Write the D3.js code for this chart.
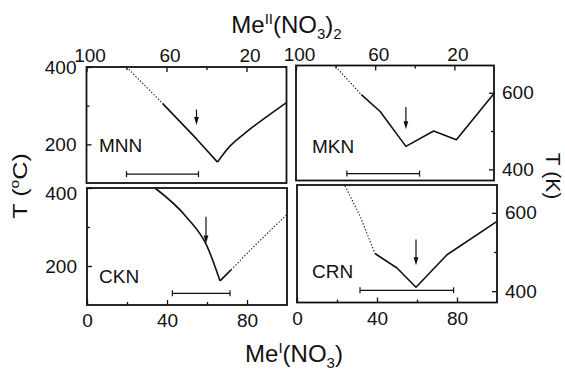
<!DOCTYPE html>
<html><head><meta charset="utf-8">
<script src="https://cdn.jsdelivr.net/npm/d3@7"></script>
<style>
html,body{margin:0;padding:0;background:#fff;}
svg{display:block;font-family:"Liberation Sans",Arial,sans-serif;}
</style></head><body>
<svg id="chart" width="565" height="371"></svg>
<script>
// Composition axes (mol %): Me^I(NO3) along the bottom, Me^II(NO3)2 along the top
const bottomTickLabels = [0, 40, 80];
const bottomMinorTicks = [20, 60];
const topTickLabels = [100, 60, 20];
const topMinorTicks = [80, 40];
// Temperature axes
const celsiusTicks = [200, 400];
const celsiusMinor = [300];
const kelvinTicks = [400, 600];
const kelvinMinor = [500];

const systems = ["MNN", "MKN", "CKN", "CRN"];

// Liquidus curves: [Me^I mol %, T]; °C for MNN/CKN, K for MKN/CRN
const mnnDotted = [[20,400],[38,306]];
const mnnLeft   = [[38,306],[55,214],[65.5,154]];
const mnnRight  = [[65.5,154],[68,172],[71.5,194],[80,232],[90,271],[100,308]];
const mknDotted = [[20,668],[33,595]];
const mknSolid  = [[33,595],[42.5,551],[55.5,460],[69.5,500],[81,477],[100,598]];
const cknLeft   = [[34,400],[50,324],[60,251],[66.5,162]];
const cknRight  = [[66.5,162],[72,190]];
const cknDotted = [[72,190],[80,232],[90,283],[100,332]];
const crnDotted = [[24,669],[31.5,592],[39,496]];
const crnSolid  = [[39,496],[50,459],[59.5,410],[75,493],[100,578]];

// Glass-forming ranges: [from %, to %, T]
const mnnRange = [20, 56, 123];
const mknRange = [25.7, 62.4, 389];
const cknRange = [42.7, 71.5, 130];
const crnRange = [31.5, 78.3, 402];

// Arrows: [x %, T at tail, T at tip]
const mnnArrow = [55, 290, 250];
const mknArrow = [55.5, 563, 505];
const cknArrow = [59.5, 326, 258];
const crnArrow = [59.5, 532, 466];

const ink = "#111";
const svg = d3.select("#chart");

// each curve piece: data, dotted?, smooth?
const panels = [
  {name: systems[0], box: [86.5, 67, 286.5, 183], unit: "C", row: 0, col: 0,
   pieces: [[mnnDotted, true, false], [mnnLeft, false, false], [mnnRight, false, true]],
   range: mnnRange, arrow: mnnArrow, lab: [12.5, 85]},
  {name: systems[1], box: [296, 65.5, 494, 180.5], unit: "K", row: 0, col: 1,
   pieces: [[mknDotted, true, false], [mknSolid, false, false]],
   range: mknRange, arrow: mknArrow, lab: [16, 87.5]},
  {name: systems[2], box: [87, 188, 287, 305], unit: "C", row: 1, col: 0,
   pieces: [[cknLeft, false, true], [cknRight, false, false], [cknDotted, true, true]],
   range: cknRange, arrow: cknArrow, lab: [12, 95]},
  {name: systems[3], box: [297, 185, 497, 302.5], unit: "K", row: 1, col: 1,
   pieces: [[crnDotted, true, false], [crnSolid, false, false]],
   range: crnRange, arrow: crnArrow, lab: [15, 93]}
];

function styleAxis(g) {
  g.select(".domain").remove();
  g.selectAll(".tick line").attr("stroke", ink).attr("stroke-width", 1.3);
  g.selectAll(".tick text").attr("fill", ink).style("font-size", "19px")
    .style("font-family", '"Liberation Sans", Arial, sans-serif');
}

panels.forEach(p => {
  const [x0, y0, x1, y1] = p.box;
  const x = d3.scaleLinear().domain([0, 100]).range([x0, x1]);
  const xTop = d3.scaleLinear().domain([100, 0]).range([x0, x1]);
  const y = d3.scaleLinear()
    .domain(p.unit === "C" ? [100, 400] : [371, 671])
    .range([y1, y0]);

  const g = svg.append("g");

  // vertical axis
  if (p.col === 0) {
    const ax = g.append("g").attr("transform", `translate(${x0},0)`)
      .call(d3.axisLeft(y).tickValues(celsiusTicks).tickSize(-5).tickPadding(10)).call(styleAxis);
    // keep the top label of the lower panel clear of the panel above
    if (p.row === 1) ax.selectAll(".tick text").filter(d => d === 400).attr("transform", "translate(0,5)");
    g.append("g").attr("transform", `translate(${x0},0)`)
      .call(d3.axisLeft(y).tickValues(celsiusMinor).tickSize(-3).tickFormat("")).call(styleAxis);
  } else {
    g.append("g").attr("transform", `translate(${x1},0)`)
      .call(d3.axisRight(y).tickValues(kelvinTicks).tickSize(-5).tickPadding(8)).call(styleAxis);
    g.append("g").attr("transform", `translate(${x1},0)`)
      .call(d3.axisRight(y).tickValues(kelvinMinor).tickSize(-3).tickFormat("")).call(styleAxis);
  }

  // horizontal axis
  if (p.row === 0) {
    g.append("g").attr("transform", `translate(0,${y0})`)
      .call(d3.axisTop(xTop).tickValues(topTickLabels).tickSize(-5).tickPadding(5)).call(styleAxis)
      .selectAll(".tick text").attr("dx", 3);
    g.append("g").attr("transform", `translate(0,${y0})`)
      .call(d3.axisTop(xTop).tickValues(topMinorTicks).tickSize(-3).tickFormat("")).call(styleAxis);
  } else {
    g.append("g").attr("transform", `translate(0,${y1})`)
      .call(d3.axisBottom(x).tickValues(bottomTickLabels).tickSize(-5).tickPadding(9)).call(styleAxis);
    g.append("g").attr("transform", `translate(0,${y1})`)
      .call(d3.axisBottom(x).tickValues(bottomMinorTicks).tickSize(-3).tickFormat("")).call(styleAxis);
  }

  // frame
  g.append("rect").attr("x", x0).attr("y", y0)
    .attr("width", x1 - x0).attr("height", y1 - y0)
    .attr("fill", "none").attr("stroke", ink).attr("stroke-width", 1.8);

  const straight = d3.line().x(d => x(d[0])).y(d => y(d[1]));
  const smooth = d3.line().x(d => x(d[0])).y(d => y(d[1])).curve(d3.curveMonotoneX);

  p.pieces.forEach(([data, dotted, isSmooth]) => {
    const path = g.append("path").datum(data).attr("d", isSmooth ? smooth : straight)
      .attr("fill", "none").attr("stroke", ink).attr("stroke-linejoin", "round");
    if (dotted) path.attr("stroke-width", 1.1).attr("stroke-dasharray", "1.3,1.9");
    else path.attr("stroke-width", 1.6);
  });

  // glass-forming range bar with end caps
  const [r0, r1, rt] = p.range;
  const ry = y(rt);
  g.append("line").attr("x1", x(r0)).attr("x2", x(r1)).attr("y1", ry).attr("y2", ry)
    .attr("stroke", ink).attr("stroke-width", 1.2);
  [r0, r1].forEach(v => {
    g.append("line").attr("x1", x(v)).attr("x2", x(v)).attr("y1", ry - 3).attr("y2", ry + 3)
      .attr("stroke", ink).attr("stroke-width", 1.2);
  });

  // arrow
  const [ax, aTail, aTip] = p.arrow;
  const axp = x(ax), yt = y(aTail), yh = y(aTip);
  g.append("line").attr("x1", axp).attr("x2", axp).attr("y1", yt).attr("y2", yh - 6)
    .attr("stroke", ink).attr("stroke-width", 1.2);
  g.append("path")
    .attr("d", `M${axp},${yh} L${axp - 2.4},${yh - 8} L${axp + 2.4},${yh - 8} Z`)
    .attr("fill", ink);

  // system label
  g.append("text").attr("x", x0 + p.lab[0]).attr("y", y0 + p.lab[1])
    .attr("fill", ink).style("font-size", "19px").text(p.name);
});

// axis titles
const topTitle = svg.append("text").attr("x", 286.5).attr("y", 33)
  .attr("text-anchor", "middle").attr("fill", ink).style("font-size", "24px");
topTitle.append("tspan").text("Me");
topTitle.append("tspan").attr("dy", -9).style("font-size", "15px").text("II");
topTitle.append("tspan").attr("dy", 9).text("(NO");
topTitle.append("tspan").attr("dy", 6).style("font-size", "15px").text("3");
topTitle.append("tspan").attr("dy", -6).text(")");
topTitle.append("tspan").attr("dy", 6).style("font-size", "15px").text("2");

const bottomTitle = svg.append("text").attr("x", 294).attr("y", 362)
  .attr("text-anchor", "middle").attr("fill", ink).style("font-size", "24px");
bottomTitle.append("tspan").text("Me");
bottomTitle.append("tspan").attr("dy", -9).style("font-size", "15px").text("I");
bottomTitle.append("tspan").attr("dy", 9).text("(NO");
bottomTitle.append("tspan").attr("dy", 6).style("font-size", "15px").text("3");
bottomTitle.append("tspan").attr("dy", -6).text(")");

const leftTitle = svg.append("text")
  .attr("transform", "translate(27,186) rotate(-90) scale(1.2,1)")
  .attr("text-anchor", "middle").attr("fill", ink).style("font-size", "21px");
leftTitle.append("tspan").text("T (");
leftTitle.append("tspan").attr("dy", -8).style("font-size", "13px").text("o");
leftTitle.append("tspan").attr("dy", 8).text("C)");

svg.append("text")
  .attr("transform", "translate(546,176) rotate(90)")
  .attr("text-anchor", "middle").attr("fill", ink).style("font-size", "21px")
  .text("T (K)");
</script>
</body></html>
